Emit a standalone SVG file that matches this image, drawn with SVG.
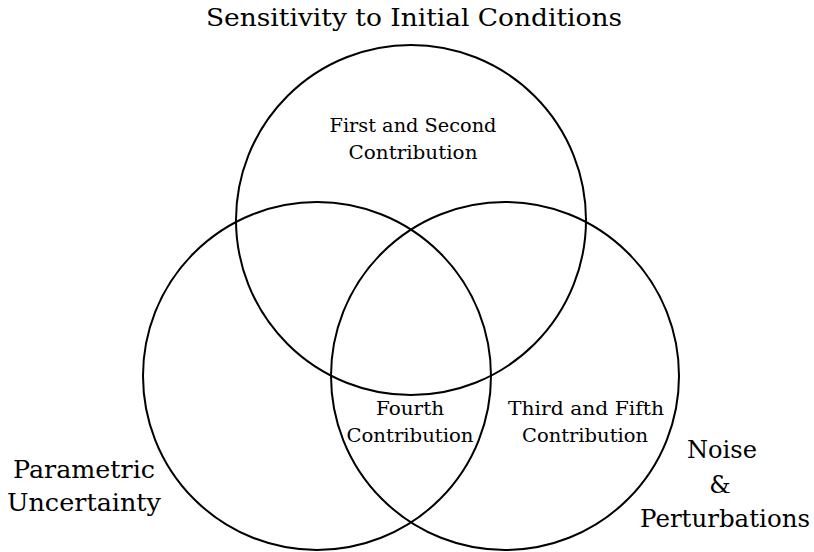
<svg xmlns="http://www.w3.org/2000/svg" width="814" height="552" viewBox="0 0 814 552">
<style>
.c{fill:none;stroke:#000;stroke-width:2}
text{fill:#000;text-anchor:middle;font-family:"DejaVu Serif","Liberation Serif",serif}
.big{font-size:24px}
.sm{font-size:18px}
</style>
<rect width="814" height="552" fill="#fff"/>
<g id="top-set">
<circle class="c" cx="411" cy="220" r="175"/>
<text class="big" x="414" y="26" textLength="416" lengthAdjust="spacingAndGlyphs">Sensitivity to Initial Conditions</text>
</g>
<g id="left-set">
<circle class="c" cx="317" cy="376" r="174"/>
<text class="big" x="84" y="478" textLength="142" lengthAdjust="spacingAndGlyphs">Parametric</text>
<text class="big" x="84" y="511" textLength="154" lengthAdjust="spacingAndGlyphs">Uncertainty</text>
</g>
<g id="right-set">
<circle class="c" cx="505" cy="376" r="174"/>
<text class="big" x="722" y="458" textLength="70" lengthAdjust="spacingAndGlyphs">Noise</text>
<text class="big" x="720" y="493">&amp;</text>
<text class="big" x="725" y="527" textLength="170" lengthAdjust="spacingAndGlyphs">Perturbations</text>
</g>
<g id="first-second">
<text class="sm" x="413" y="132" textLength="167" lengthAdjust="spacingAndGlyphs">First and Second</text>
<text class="sm" x="413" y="159" textLength="129" lengthAdjust="spacingAndGlyphs">Contribution</text>
</g>
<g id="fourth">
<text class="sm" x="410" y="415" textLength="68" lengthAdjust="spacingAndGlyphs">Fourth</text>
<text class="sm" x="410" y="442" textLength="127" lengthAdjust="spacingAndGlyphs">Contribution</text>
</g>
<g id="third-fifth">
<text class="sm" x="586" y="415" textLength="156" lengthAdjust="spacingAndGlyphs">Third and Fifth</text>
<text class="sm" x="585" y="442" textLength="126" lengthAdjust="spacingAndGlyphs">Contribution</text>
</g>
<g id="connectors"></g>
</svg>
